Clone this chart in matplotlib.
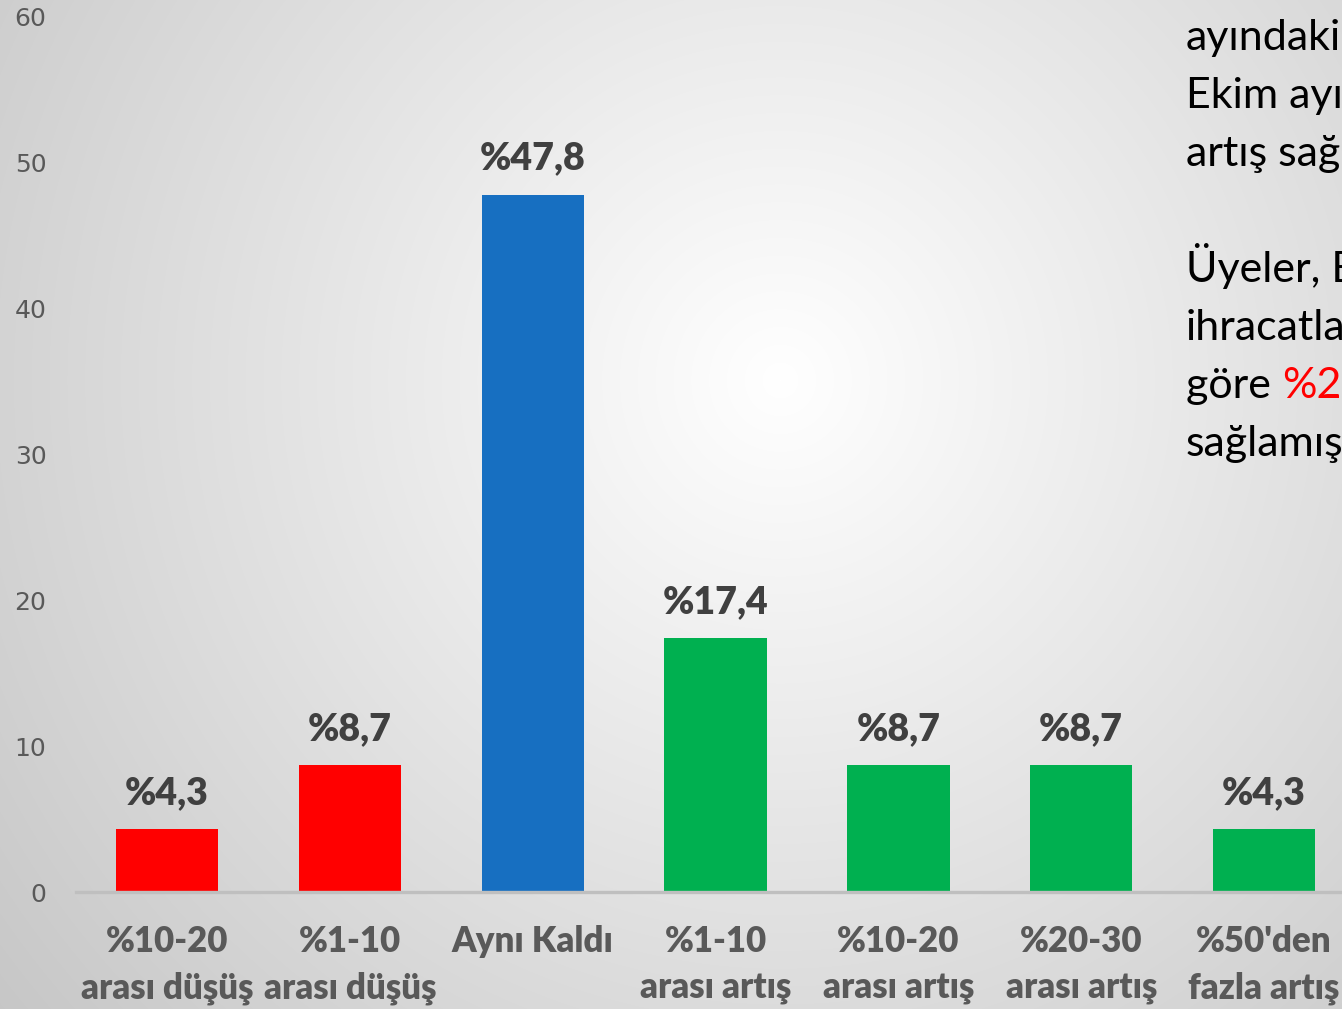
import numpy as np
import matplotlib
matplotlib.use("Agg")
import matplotlib.pyplot as plt

categories = ["%10-20\narası düşüş", "%1-10\narası düşüş", "Aynı Kaldı",
              "%1-10\narası artış", "%10-20\narası artış", "%20-30\narası artış",
              "%50'den\nfazla artış"]
values = [4.3, 8.7, 47.8, 17.4, 8.7, 8.7, 4.3]
labels = ["%4,3", "%8,7", "%47,8", "%17,4", "%8,7", "%8,7", "%4,3"]
colors = ["#FF0000", "#FF0000", "#176FC1", "#00B050", "#00B050", "#00B050", "#00B050"]
yticks = [0, 10, 20, 30, 40, 50, 60]

side_lines = ["ayındaki", "Ekim ayı", "artış sağ", "", "Üyeler, E", "ihracatla",
              "göre ", "sağlamış"]

W, H = 1342, 1009
fig = plt.figure(figsize=(W / 100, H / 100), dpi=100)

# radial gradient background
bg = fig.add_axes([0, 0, 1, 1], zorder=-5)
yy, xx = np.mgrid[0:H, 0:W]
r = np.sqrt((xx - 780) ** 2 + (yy - 380) ** 2) / 1000.0
v = np.clip(1 - 0.22 * r, 0, 1)
bg.imshow(np.dstack([v, v, v]), aspect="auto", extent=[0, 1, 0, 1])
bg.axis("off")

ax = fig.add_axes([75.6 / W, 117 / H, (1355.5 - 75.6) / W, (892 - 17) / H])
ax.patch.set_alpha(0)
x = np.arange(len(values))
ax.bar(x, values, width=0.56, color=colors, zorder=2)
ax.set_xlim(-0.5, len(values) - 0.5)
ax.set_ylim(0, 60)
ax.set_yticks(yticks)
ax.set_xticks(x)
ax.set_xticklabels(categories, fontfamily="Lato", fontweight="heavy", fontsize=25,
                   color="#595959", linespacing=1.5)
for s in ["top", "right", "left"]:
    ax.spines[s].set_visible(False)
ax.spines["bottom"].set_color("#BFBFBF")
ax.spines["bottom"].set_linewidth(2.4)
ax.tick_params(axis="y", length=0, labelsize=18, labelcolor="#595959", pad=21)
ax.tick_params(axis="x", length=0, pad=24)

for xi, val, lab in zip(x, values, labels):
    ax.annotate(lab, (xi, val), xytext=(0, 14), textcoords="offset points",
                ha="center", va="bottom", fontfamily="Lato", fontweight="heavy",
                fontsize=27, color="#404040")

# side text (cut by the slide edge)
y0 = 1009 - 50
for i, line in enumerate(side_lines):
    if line:
        t = fig.text(1186 / W, (y0 - i * 58) / H, line, fontfamily="Lato",
                     fontsize=31, color="#000000", va="baseline", ha="left")
        if line == "göre ":
            fig.canvas.draw()
            bb = t.get_window_extent()
            fig.text(bb.x1 / W, (y0 - i * 58) / H, "%2", fontfamily="Lato",
                     fontsize=31, color="#FF0000", va="baseline", ha="left")

fig.savefig("out.png", dpi=100)
